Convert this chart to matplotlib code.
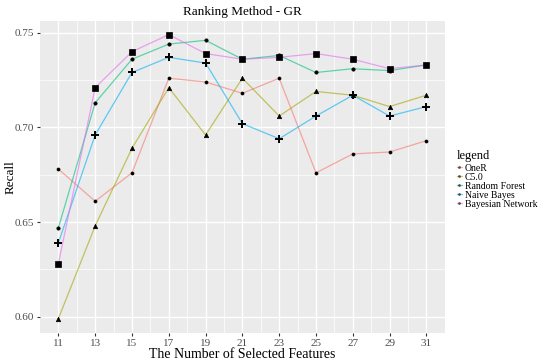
import matplotlib
matplotlib.use("Agg")
import matplotlib.pyplot as plt
from matplotlib.lines import Line2D
from matplotlib.ticker import FixedLocator

features = [11, 13, 15, 17, 19, 21, 23, 25, 27, 29, 31]

one_r = [0.678, 0.661, 0.676, 0.726, 0.724, 0.718, 0.726, 0.676, 0.686, 0.687, 0.693]
c50 = [0.599, 0.648, 0.689, 0.721, 0.696, 0.726, 0.706, 0.719, 0.717, 0.711, 0.717]
random_forest = [0.647, 0.713, 0.736, 0.744, 0.746, 0.736, 0.738, 0.729, 0.731, 0.730, 0.733]
naive_bayes = [0.639, 0.696, 0.729, 0.737, 0.734, 0.702, 0.694, 0.706, 0.717, 0.706, 0.711]
bayes_net = [0.628, 0.721, 0.740, 0.749, 0.739, 0.736, 0.737, 0.739, 0.736, 0.731, 0.733]

names = ["OneR", "C5.0", "Random Forest", "Naive Bayes", "Bayesian Network"]
series = [one_r, c50, random_forest, naive_bayes, bayes_net]

colors = ['#F8766D', '#A3A500', '#00BF7D', '#00B0F6', '#E76BF3']
markers = ['o', '^', 'o', '+', 's']
msizes = [2.2, 3.2, 2.4, 5.5, 3.8]

plt.rcParams['font.family'] = ['Liberation Serif', 'DejaVu Serif']

fig = plt.figure(figsize=(5.5, 3.62), dpi=100)
ax = fig.add_axes([0.0727, 0.080, 0.736, 0.862])
ax.set_facecolor('#EBEBEB')

for vals, c, m, ms in zip(series, colors, markers, msizes):
    ax.plot(features, vals, color=c, lw=0.9, alpha=0.6, zorder=3)
    ax.plot(features, vals, ls='none', marker=m, ms=ms, color='black',
            mew=1.4 if m == '+' else 0.5, zorder=4)

ax.set_xlim(10, 32)
ax.set_ylim(0.5914, 0.7562)
ax.set_xticks(features)
ax.set_yticks([0.60, 0.65, 0.70, 0.75])
ax.set_yticklabels(['0.60', '0.65', '0.70', '0.75'])
ax.xaxis.set_minor_locator(FixedLocator([12, 14, 16, 18, 20, 22, 24, 26, 28, 30]))
ax.yaxis.set_minor_locator(FixedLocator([0.625, 0.675, 0.725]))
ax.grid(which='major', color='white', lw=1.0)
ax.grid(which='minor', color='white', lw=0.5)
ax.set_axisbelow(True)
for s in ax.spines.values():
    s.set_visible(False)
ax.tick_params(which='major', length=2.5, color='#333333', labelsize=8,
               labelcolor='#4D4D4D', pad=2)
ax.tick_params(which='minor', length=0)

ax.set_title('Ranking Method - GR', fontsize=9.5, pad=4)
ax.set_xlabel('The Number of Selected Features', fontsize=10, labelpad=0)
ax.set_ylabel('Recall', fontsize=9.5, labelpad=1)
ax.yaxis.set_label_coords(-0.057, 0.5)

handles = [Line2D([0], [0], color=c, lw=0.9, alpha=0.6, marker='o', ms=1.6,
                  mfc='black', mec='black', mew=0.3)
           for c in colors]
leg = fig.legend(handles, names, title='legend', loc='upper left',
                 bbox_to_anchor=(0.822, 0.60), frameon=False,
                 fontsize=7.0, title_fontsize=9, handlelength=0.5,
                 handletextpad=0.3, labelspacing=0.0, borderpad=0)
leg._legend_box.align = 'left'
leg._legend_box.sep = 1.5

fig.savefig('out.png', dpi=100)
